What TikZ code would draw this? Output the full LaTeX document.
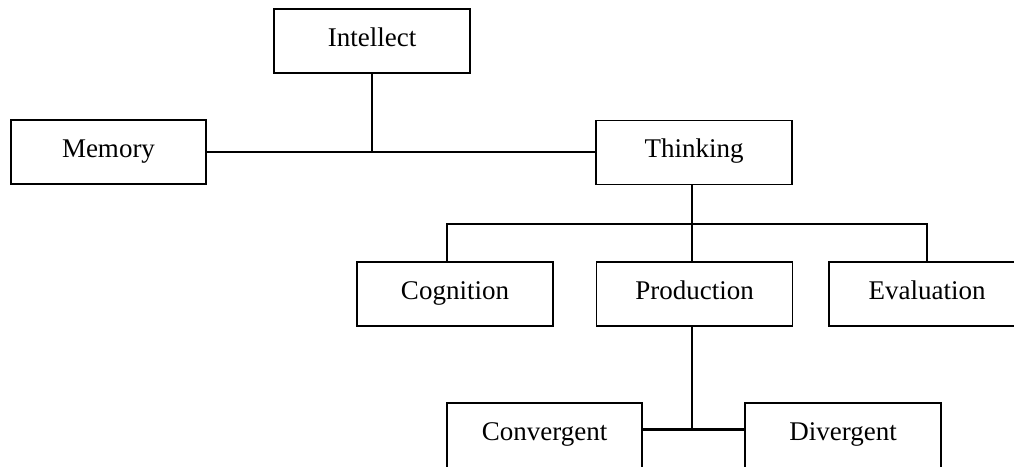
\documentclass[tikz,border=0pt]{standalone}
\usepackage{fontspec}
\setmainfont{Liberation Serif}
\begin{document}
\begin{tikzpicture}[x=1pt,y=-1pt,
  box/.style={draw=black, line width=1.4pt, fill=white, minimum width=196pt, minimum height=64pt, inner sep=0pt, text height=0.68em+6pt, text depth=0.2em, font=\fontsize{27}{30}\selectfont},
  cutbox/.style={box, minimum height=80pt, text depth=0.2em+16pt},
  conn/.style={draw=black, line width=2.8pt}]
\clip (0,0) rectangle (1014,466);
\fill[white] (0,0) rectangle (1014,466);
\node[box] (intellect) at (372,41) {Intellect};
\node[box, minimum width=195pt] (memory) at (108.5,152) {Memory};
\node[box] (thinking) at (694,152.5) {Thinking};
\node[box] (cognition) at (455,294) {Cognition};
\node[box] (production) at (694.5,294) {Production};
\node[box] (evaluation) at (927,294) {Evaluation};
\node[cutbox, minimum width=195pt] (convergent) at (544.5,443) {Convergent};
\node[cutbox] (divergent) at (843,443) {Divergent};
\coordinate (bus) at (692,224);
\coordinate (cj) at ([yshift=-27pt]convergent.north east);
\coordinate (dj) at ([yshift=-27pt]divergent.north west);
\draw[conn] (memory.east) -- (memory.east -| thinking.west);
\draw[conn] (intellect.south) -- (intellect.south |- memory.east);
\draw[conn] (thinking.south -| bus) -- (bus);
\draw[conn] (cognition.north -| 447,0) |- (bus) -| (evaluation.north);
\draw[conn] (bus) -- (production.north -| bus);
\draw[conn] (production.south -| bus) -- (bus |- cj);
\draw[conn] (cj) -- (dj);
\end{tikzpicture}
\end{document}
